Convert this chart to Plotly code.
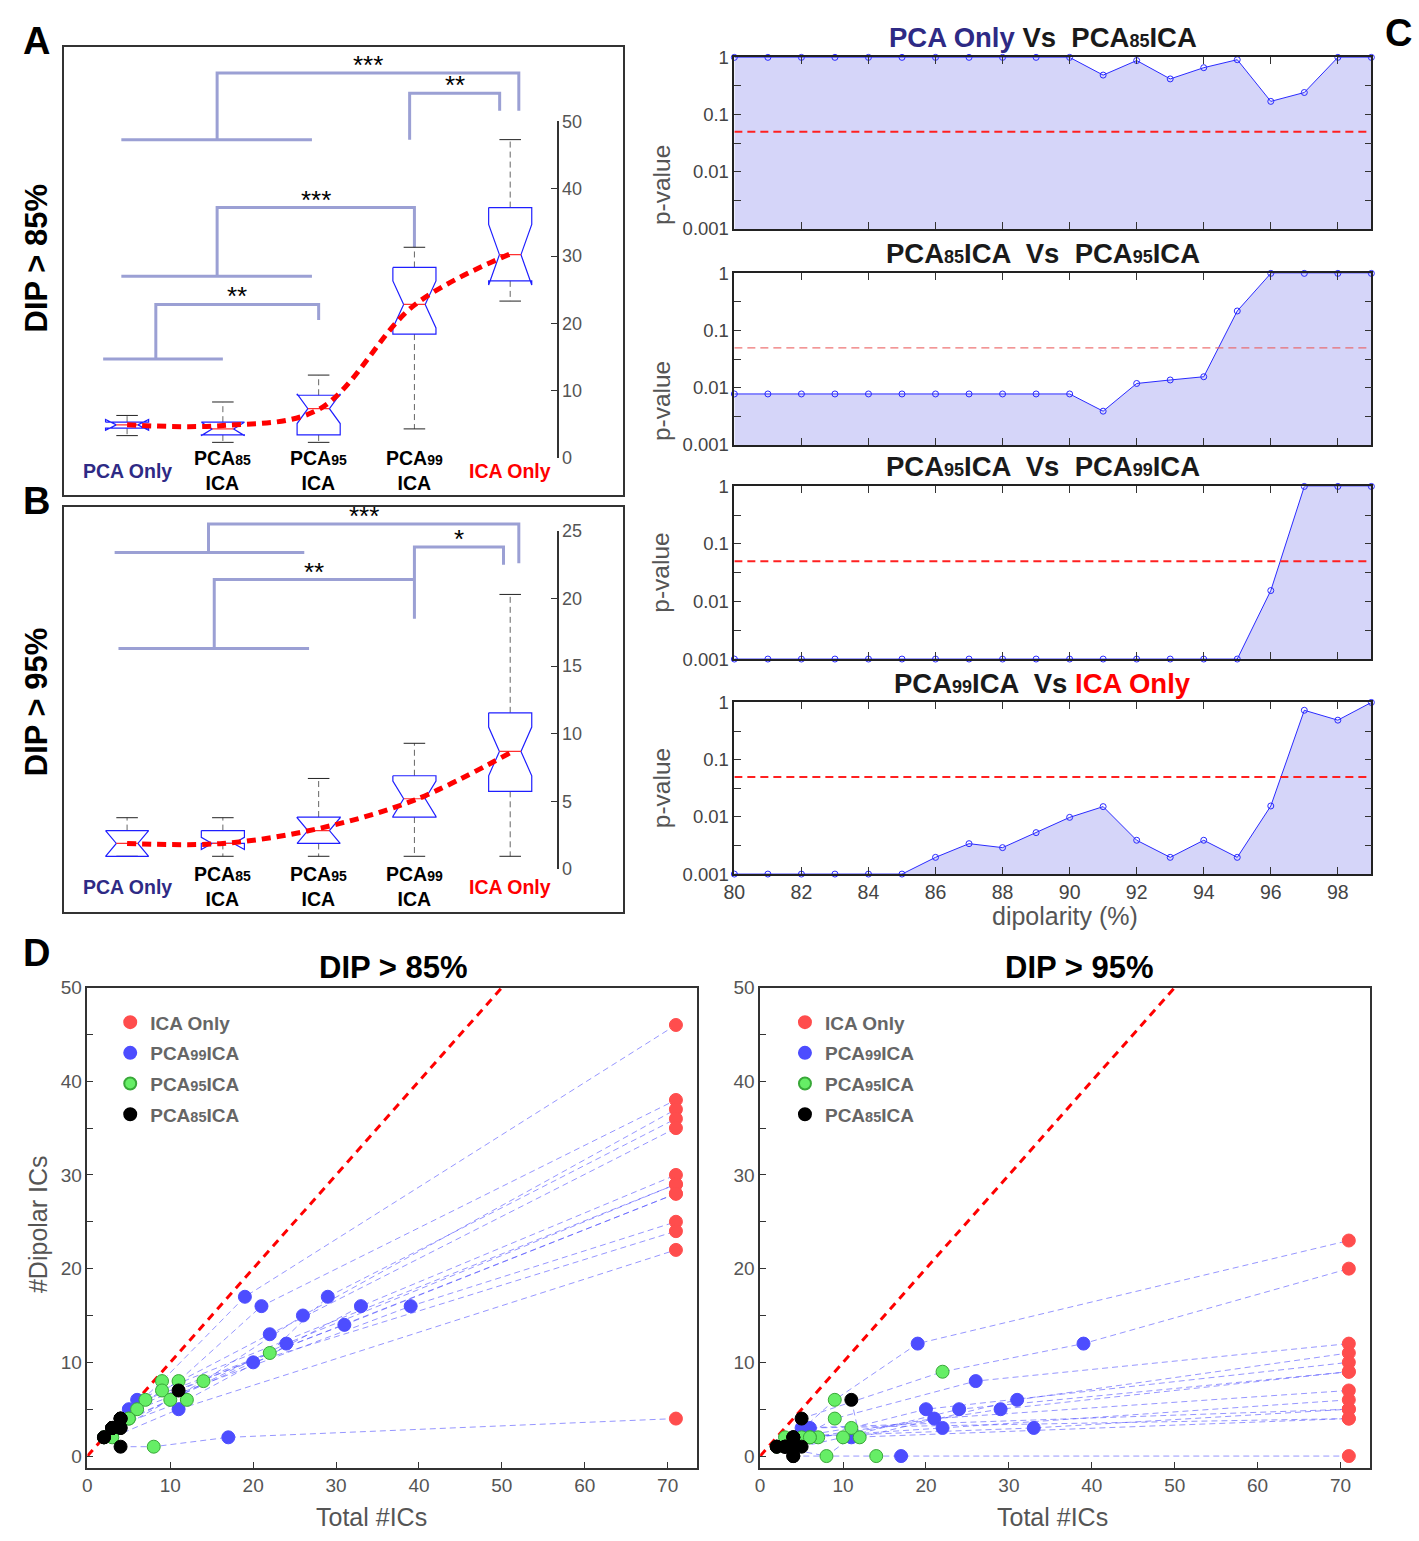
import plotly.graph_objects as go

W, H = 1419, 1541
def px(x): return x / W
def py(y): return 1 - y / H

FONT = "Liberation Sans, Arial, sans-serif"
GRAY = "#555555"
INDIGO = "#2e2a85"

# ---------------- data: panels A / B (notched box statistics) ----------------
categories = ["PCA Only", "PCA85ICA", "PCA95ICA", "PCA99ICA", "ICA Only"]
cat_labels = ['PCA Only', 'PCA<span style="font-size:14px">85</span><br>ICA',
              'PCA<span style="font-size:14px">95</span><br>ICA',
              'PCA<span style="font-size:14px">99</span><br>ICA', 'ICA Only']
cat_colors = [INDIGO, "black", "black", "black", "red"]

A_upper = [6.3, 8.3, 12.3, 31.3, 47.3]
A_q3 = [5.3, 5.3, 9.3, 28.3, 37.2]
A_median = [4.9, 4.3, 7.3, 22.8, 30.2]
A_q1 = [4.4, 3.4, 3.4, 18.4, 26.3]
A_lower = [3.3, 2.3, 2.3, 4.3, 23.3]
A_notch = [0.8, 1.0, 2.2, 3.5, 4.5]
A_trend = [4.9, 4.8, 7.2, 22.7, 30.3]
A_ticks = [0, 10, 20, 30, 40, 50]

B_upper = [3.8, 3.8, 6.7, 9.3, 20.3]
B_q3 = [2.85, 2.85, 3.85, 6.9, 11.55]
B_median = [1.9, 1.9, 2.85, 5.2, 8.7]
B_q1 = [0.95, 1.9, 1.9, 3.85, 5.75]
B_lower = [0.95, 0.95, 0.95, 0.95, 0.95]
B_notch = [0.95, 0.45, 0.95, 1.3, 1.8]
B_trend = [1.9, 1.9, 3.0, 5.1, 8.6]
B_ticks = [0, 5, 10, 15, 20, 25]

# significance brackets: left leg x, right leg x, top y, left-leg end, right-leg end, group bar, stars
A_brackets = [
    dict(xl=1.94, xr=5.09, top=57.2, yl=47.3, yr=51.6, bar=(0.94, 2.93), stars="***"),
    dict(xl=3.95, xr=4.89, top=54.2, yl=47.3, yr=51.6, bar=None, stars="**"),
    dict(xl=1.94, xr=4.0, top=37.2, yl=27.0, yr=31.3, bar=(0.94, 2.93), stars="***"),
    dict(xl=1.3, xr=3.0, top=22.8, yl=14.7, yr=20.5, bar=(0.75, 2.0), stars="**"),
]
B_brackets = [
    dict(xl=1.85, xr=5.09, top=25.5, yl=23.4, yr=22.6, bar=(0.87, 2.85), stars="***"),
    dict(xl=4.0, xr=4.93, top=23.8, yl=18.5, yr=22.5, bar=None, stars="*"),
    dict(xl=1.91, xr=4.0, top=21.4, yl=16.3, yr=21.4, bar=(0.91, 2.90), stars="**"),
]

# ---------------- data: panel C (p-values vs dipolarity) ----------------
dipolarity = [80, 81, 82, 83, 84, 85, 86, 87, 88, 89, 90, 91, 92, 93, 94, 95, 96, 97, 98, 99]
p_pca_vs_85 = [1, 1, 1, 1, 1, 1, 1, 1, 1, 1, 1, 0.49, 0.88, 0.42, 0.66, 0.91, 0.17, 0.243, 1, 1]
p_85_vs_95 = [0.0078, 0.0078, 0.0078, 0.0078, 0.0078, 0.0078, 0.0078, 0.0078, 0.0078, 0.0078,
              0.0078, 0.0039, 0.0119, 0.0137, 0.0156, 0.22, 1, 1, 1, 1]
p_95_vs_99 = [0.001, 0.001, 0.001, 0.001, 0.001, 0.001, 0.001, 0.001, 0.001, 0.001, 0.001,
              0.001, 0.001, 0.001, 0.001, 0.001, 0.0155, 1, 1, 1]
p_99_vs_ica = [0.001, 0.001, 0.001, 0.001, 0.001, 0.001, 0.00196, 0.0034, 0.0029, 0.0053,
               0.0098, 0.0151, 0.0039, 0.00196, 0.0039, 0.00196, 0.0155, 0.73, 0.49, 1]
alpha = 0.05
p_floor = 0.001
C_titles = [
    f'<span style="color:{INDIGO}">PCA Only</span> Vs \u00a0PCA<span style="font-size:18px">85</span>ICA',
    'PCA<span style="font-size:18px">85</span>ICA \u00a0Vs \u00a0PCA<span style="font-size:18px">95</span>ICA',
    'PCA<span style="font-size:18px">95</span>ICA \u00a0Vs \u00a0PCA<span style="font-size:18px">99</span>ICA',
    'PCA<span style="font-size:18px">99</span>ICA \u00a0Vs <span style="color:red">ICA Only</span>',
]
C_series = [p_pca_vs_85, p_85_vs_95, p_95_vs_99, p_99_vs_ica]
C_xticks = [80, 82, 84, 86, 88, 90, 92, 94, 96, 98]
C_yticks = [0.001, 0.00316, 0.01, 0.0316, 0.1, 0.316, 1]
C_yticktext = ["0.001", "", "0.01", "", "0.1", "", "1"]

# ---------------- data: panel D (per-subject IC counts) ----------------
ica_total = 71
# DIP > 85%
D85_tot85 = [3, 4, 4, 11, 4, 3, 3, 4, 4, 3, 2, 2, 3, 4]
D85_dip85 = [3, 4, 3, 7, 4, 3, 3, 3, 4, 3, 2, 2, 3, 1]
D85_tot95 = [9, 11, 14, 22, 9, 12, 10, 7, 6, 5, 3, 2, 5, 8]
D85_dip95 = [8, 8, 8, 11, 7, 6, 6, 6, 5, 4, 2, 2, 4, 1]
D85_tot99 = [19, 21, 26, 29, 22, 33, 24, 31, 39, 20, 11, 6, 5, 17]
D85_dip99 = [17, 16, 15, 17, 13, 16, 12, 14, 16, 10, 5, 6, 5, 2]
D85_dipICA = [46, 38, 37, 36, 35, 30, 29, 28, 25, 24, 22, 29, 28, 4]
# DIP > 95%
D95_tot85 = [4, 5, 3, 11, 4, 5, 4, 3, 4, 3, 2, 2, 4, 4]
D95_dip85 = [2, 4, 1, 6, 2, 1, 0, 1, 2, 1, 1, 1, 1, 0]
D95_tot95 = [9, 22, 9, 12, 11, 10, 7, 6, 5, 3, 8, 2, 6, 14]
D95_dip95 = [6, 9, 4, 2, 3, 2, 2, 2, 2, 2, 0, 1, 2, 0]
D95_tot99 = [19, 39, 26, 31, 20, 24, 29, 21, 22, 33, 11, 5, 6, 17]
D95_dip99 = [12, 12, 8, 6, 5, 5, 5, 4, 3, 3, 2, 3, 3, 0]
D95_dipICA = [23, 20, 12, 11, 10, 9, 9, 7, 6, 5, 4, 5, 4, 0]

D_xticks = [0, 10, 20, 30, 40, 50, 60, 70]
D_yticks = [0, 5, 10, 15, 20, 25, 30, 35, 40, 45, 50]
D_yticktext = ["0", "", "10", "", "20", "", "30", "", "40", "", "50"]

# ---------------- figure ----------------
fig = go.Figure()
BOX_HALF = 0.225
BRACKET_COLOR = "rgb(155,160,212)"


def add_box_panel(xa, ya_data, ya_br, upper, q3, med, q1, lower, notch, trend, brackets):
    pos = [i + 1 for i in range(len(categories))]
    # brackets (on the full-frame axis)
    bx, by = [], []
    for b in brackets:
        bx += [b["xl"], b["xl"], b["xr"], b["xr"], None]
        by += [b["yl"], b["top"], b["top"], b["yr"], None]
        if b["bar"] is not None:
            bx += [b["bar"][0], b["bar"][1], None]
            by += [b["yl"], b["yl"], None]
    fig.add_trace(go.Scatter(x=bx, y=by, mode="lines", xaxis=xa, yaxis=ya_br,
                             line=dict(color=BRACKET_COLOR, width=3), showlegend=False, hoverinfo="skip"))
    for b in brackets:
        fig.add_annotation(x=(b["xl"] + b["xr"]) / 2, y=b["top"], xref=xa, yref=ya_br, text=b["stars"],
                           showarrow=False, yanchor="bottom", yshift=-9,
                           font=dict(family=FONT, size=26, color="black"))
    # whiskers
    wx, wy, cx, cy = [], [], [], []
    for i, x in enumerate(pos):
        wx += [x, x, None, x, x, None]
        wy += [q3[i], upper[i], None, q1[i], lower[i], None]
        cx += [x - BOX_HALF / 2, x + BOX_HALF / 2, None, x - BOX_HALF / 2, x + BOX_HALF / 2, None]
        cy += [upper[i], upper[i], None, lower[i], lower[i], None]
    fig.add_trace(go.Scatter(x=wx, y=wy, mode="lines", xaxis=xa, yaxis=ya_data,
                             line=dict(color="#666", width=1, dash="6px,4px"), showlegend=False, hoverinfo="skip"))
    fig.add_trace(go.Scatter(x=cx, y=cy, mode="lines", xaxis=xa, yaxis=ya_data,
                             line=dict(color="#222", width=1), showlegend=False, hoverinfo="skip"))
    # notched boxes
    nx, ny, mx, my = [], [], [], []
    w = BOX_HALF
    for i, x in enumerate(pos):
        m, n = med[i], notch[i]
        nx += [x - w, x + w, x + w, x + w / 2, x + w, x + w, x - w, x - w, x - w / 2, x - w, x - w, None]
        ny += [q3[i], q3[i], m + n, m, m - n, q1[i], q1[i], m - n, m, m + n, q3[i], None]
        mx += [x - w / 2, x + w / 2, None]
        my += [m, m, None]
    fig.add_trace(go.Scatter(x=nx, y=ny, mode="lines", xaxis=xa, yaxis=ya_data,
                             line=dict(color="#1f1fff", width=1.2), showlegend=False, hoverinfo="skip"))
    fig.add_trace(go.Scatter(x=mx, y=my, mode="lines", xaxis=xa, yaxis=ya_data,
                             line=dict(color="#ff3030", width=1.2), showlegend=False, hoverinfo="skip"))
    # trend line through medians
    fig.add_trace(go.Scatter(x=pos, y=trend, mode="lines", xaxis=xa, yaxis=ya_data,
                             line=dict(color="#ff0000", width=5, dash="9px,6px", shape="spline"),
                             showlegend=False, hoverinfo="skip"))


add_box_panel("x", "y3", "y", A_upper, A_q3, A_median, A_q1, A_lower, A_notch, A_trend, A_brackets)
add_box_panel("x2", "y4", "y2", B_upper, B_q3, B_median, B_q1, B_lower, B_notch, B_trend, B_brackets)

# category labels
for xa, ya, ylab in [("x", "y", -1.9), ("x2", "y2", -1.31)]:
    for i, lab in enumerate(cat_labels):
        fig.add_annotation(x=i + 1, y=ylab, xref=xa, yref=ya, text=f"<b>{lab}</b>", showarrow=False,
                           yanchor="middle", font=dict(family=FONT, size=19.5, color=cat_colors[i]))

# panel C
C_domains = [(47, 221), (266, 440), (482, 657), (701, 875)]
C_title_y = [27, 246, 462, 682]
for k, series in enumerate(C_series):
    xa, ya = f"x{k + 5}", f"y{k + 5}"
    fig.add_trace(go.Scatter(x=dipolarity, y=[p_floor] * len(dipolarity), mode="lines", xaxis=xa, yaxis=ya,
                             line=dict(width=0, color="rgba(0,0,0,0)"), showlegend=False, hoverinfo="skip"))
    fig.add_trace(go.Scatter(x=dipolarity, y=series, mode="lines+markers", xaxis=xa, yaxis=ya,
                             fill="tonexty", fillcolor="#d5d5f9",
                             line=dict(color="#2a2aff", width=1),
                             marker=dict(symbol="circle-open", size=6, color="#2a2aff", line=dict(width=1)),
                             cliponaxis=False, showlegend=False, hoverinfo="skip"))
    fig.add_trace(go.Scatter(x=[dipolarity[0], dipolarity[-1]], y=[alpha, alpha], mode="lines", xaxis=xa, yaxis=ya,
                             line=dict(color="#ff2020" if k != 1 else "rgba(235,90,90,0.85)",
                                       width=2 if k != 1 else 1.3, dash="8px,5px"),
                             showlegend=False, hoverinfo="skip"))
    fig.add_annotation(x=px(1040), y=py(C_title_y[k]), xref="paper", yref="paper", text=f"<b>{C_titles[k]}</b>",
                       showarrow=False, xanchor="center", yanchor="middle",
                       font=dict(family=FONT, size=27.5, color="#1a1a1a"))
    d0, d1 = C_domains[k]
    fig.add_annotation(x=px(655), y=py((d0 + d1) / 2), xref="paper", yref="paper", text="p-value",
                       showarrow=False, textangle=-90, font=dict(family=FONT, size=24.5, color=GRAY))

# panel D
def add_d_panel(xa, ya, legend, tot85, dip85, tot95, dip95, tot99, dip99, dipICA):
    # identity line
    fig.add_trace(go.Scatter(x=[0, 50], y=[0, 50], mode="lines", xaxis=xa, yaxis=ya,
                             line=dict(color="#ff0000", width=3, dash="8px,6px"), showlegend=False,
                             hoverinfo="skip"))
    lx, ly = [], []
    for i in range(len(tot85)):
        lx += [tot85[i], tot95[i], tot99[i], ica_total, None]
        ly += [dip85[i], dip95[i], dip99[i], dipICA[i], None]
    fig.add_trace(go.Scatter(x=lx, y=ly, mode="lines", xaxis=xa, yaxis=ya,
                             line=dict(color="rgba(80,80,255,0.6)", width=1, dash="6px,4px"),
                             showlegend=False, hoverinfo="skip"))
    groups = [
        ("ICA Only", [ica_total] * len(dipICA), dipICA, "#ff4d4d", "#ff4d4d"),
        ('PCA<span style="font-size:14.5px">99</span>ICA', tot99, dip99, "#4d4dff", "#4d4dff"),
        ('PCA<span style="font-size:14.5px">95</span>ICA', tot95, dip95, "#66ee66", "#38a838"),
        ('PCA<span style="font-size:14.5px">85</span>ICA', tot85, dip85, "#000000", "#000000"),
    ]
    for r, (name, xs, ys, col, edge) in enumerate(groups):
        fig.add_trace(go.Scatter(x=xs, y=ys, mode="markers", xaxis=xa, yaxis=ya, name=f"<b>{name}</b>",
                                 marker=dict(size=13, color=col, line=dict(color=edge, width=1)),
                                 legend=legend, legendrank=r + 1, legendgroup=f"{legend}{r}",
                                 cliponaxis=False, hoverinfo="skip"))


add_d_panel("x9", "y9", "legend", D85_tot85, D85_dip85, D85_tot95, D85_dip95, D85_tot99, D85_dip99, D85_dipICA)
add_d_panel("x10", "y10", "legend2", D95_tot85, D95_dip85, D95_tot95, D95_dip95, D95_tot99, D95_dip99, D95_dipICA)

# ---------------- axes ----------------
frame = dict(showline=True, linecolor="#333", linewidth=1.5, mirror=True, showgrid=False, zeroline=False,
             showticklabels=False, ticks="")
right_axis = dict(anchor="free", position=px(551), side="right", showline=True, linecolor="#333",
                  linewidth=1.5, ticks="inside", ticklen=6, tickcolor="#333", showgrid=False, zeroline=False,
                  tickfont=dict(family=FONT, size=18, color=GRAY))
layout = dict(
    xaxis=dict(domain=[px(53), px(617)], range=[0.337, 6.18], anchor="y", **frame),
    yaxis=dict(domain=[py(491), py(37)], range=[-5.57, 61.0], anchor="x", **frame),
    xaxis2=dict(domain=[px(53), px(617)], range=[0.337, 6.18], anchor="y2", **frame),
    yaxis2=dict(domain=[py(913), py(503)], range=[-3.13, 26.75], anchor="x2", **frame),
    yaxis3=dict(domain=[py(453), py(112)], range=[0, 50], tickvals=A_ticks, **right_axis),
    yaxis4=dict(domain=[py(870), py(527)], range=[0, 25], tickvals=B_ticks, **right_axis),
)
for k in range(4):
    d0, d1 = C_domains[k]
    layout[f"xaxis{k + 5}"] = dict(domain=[px(729), px(1371)], range=[80, 99], anchor=f"y{k + 5}",
                                   showline=True, linecolor="#222", linewidth=1.5, mirror="ticks",
                                   ticks="inside", ticklen=7, tickcolor="#333", tickvals=C_xticks,
                                   showticklabels=(k == 3), showgrid=False, zeroline=False,
                                   tickfont=dict(family=FONT, size=19.5, color="#444"))
    layout[f"yaxis{k + 5}"] = dict(domain=[py(d1), py(d0)], type="log", range=[-3, 0], anchor=f"x{k + 5}",
                                   showline=True, linecolor="#222", linewidth=1.5, mirror="ticks",
                                   ticks="inside", ticklen=7, tickcolor="#333", tickvals=C_yticks,
                                   ticktext=C_yticktext, showgrid=False, zeroline=False,
                                   tickfont=dict(family=FONT, size=18.5, color="#444"))
D_x_domains = [(77, 691), (755, 1370)]
D_x_ranges = [[0, 73.5], [0, 73.6]]
for j, k in enumerate([9, 10]):
    layout[f"xaxis{k}"] = dict(domain=[px(D_x_domains[j][0]), px(D_x_domains[j][1])], range=D_x_ranges[j],
                               anchor=f"y{k}", showline=True, linecolor="#333", linewidth=1.5, mirror=True,
                               ticks="inside", ticklen=6, tickcolor="#333", tickvals=D_xticks,
                               showgrid=False, zeroline=False, tickfont=dict(family=FONT, size=19, color=GRAY))
    layout[f"yaxis{k}"] = dict(domain=[py(1477), py(990)], range=[-1.26, 50], anchor=f"x{k}",
                               showline=True, linecolor="#333", linewidth=1.5, mirror=True,
                               ticks="inside", ticklen=6, tickcolor="#333", tickvals=D_yticks,
                               ticktext=D_yticktext, showgrid=False, zeroline=False,
                               tickfont=dict(family=FONT, size=19, color=GRAY))

leg_common = dict(xanchor="left", yanchor="top", bgcolor="rgba(0,0,0,0)", borderwidth=0,
                  font=dict(family=FONT, size=19, color="#666"), traceorder="grouped", tracegroupgap=3,
                  itemsizing="constant")
layout["legend"] = dict(x=px(100), y=py(1006), **leg_common)
layout["legend2"] = dict(x=px(780), y=py(1006), **leg_common)

fig.update_layout(width=W, height=H, autosize=False, margin=dict(l=0, r=0, t=0, b=0),
                  paper_bgcolor="white", plot_bgcolor="rgba(0,0,0,0)", font=dict(family=FONT), **layout)

# ---------------- text annotations ----------------
def txt(x, y, text, size, color="black", angle=0, bold=False):
    fig.add_annotation(x=px(x), y=py(y), xref="paper", yref="paper", text=f"<b>{text}</b>" if bold else text,
                       showarrow=False, textangle=angle, xanchor="center", yanchor="middle",
                       font=dict(family=FONT, size=size, color=color))

txt(26, 30, "A", 38, bold=True)
txt(26, 497, "B", 38, bold=True)
txt(1398, 22, "C", 38, bold=True)
txt(26, 955, "D", 38, bold=True)
txt(26, 250, "DIP &gt; 85%", 31, angle=-90, bold=True)
txt(26, 700, "DIP &gt; 95%", 31, angle=-90, bold=True)
txt(1062, 917, "dipolarity (%)", 25, color=GRAY)
txt(385, 970, "DIP &gt; 85%", 31, bold=True)
txt(1077, 970, "DIP &gt; 95%", 31, bold=True)
txt(27, 1230, "#Dipolar ICs", 25, color=GRAY, angle=-90)
txt(363, 1527, "Total #ICs", 25, color=GRAY)
txt(1050, 1527, "Total #ICs", 25, color=GRAY)

fig.write_html("out.html")
